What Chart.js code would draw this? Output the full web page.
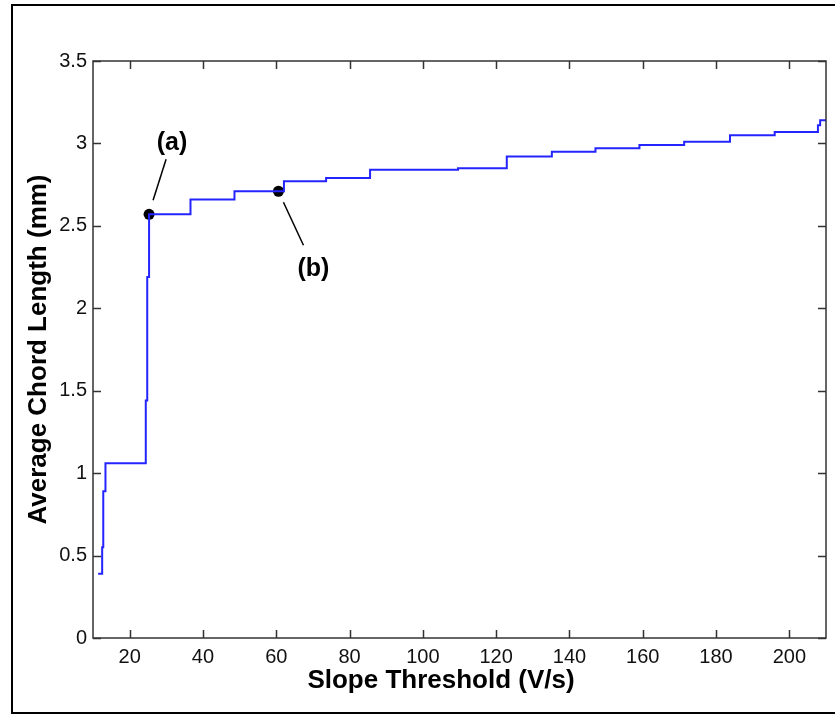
<!DOCTYPE html>
<html>
<head>
<meta charset="utf-8">
<script src="https://cdn.jsdelivr.net/npm/chart.js@4.4.1/dist/chart.umd.min.js"></script>
<style>
  body { margin: 0; background: #fff; }
  #wrap { width: 835px; height: 715px; }
</style>
</head>
<body>
<div id="wrap"><canvas id="chordChart" width="835" height="715"></canvas></div>
<script>
// step data: each point is where a new level starts
const thresholdX = [11.4, 12.5, 12.8, 13.4, 24.4, 24.8, 25.3, 36.6, 48.6, 62.1, 73.6, 85.6, 109.6, 122.9, 135.2, 147.1, 159.1, 171.3, 183.8, 196.0, 207.8, 208.4, 210];
const chordLength = [0.39, 0.55, 0.89, 1.06, 1.44, 2.19, 2.57, 2.66, 2.71, 2.77, 2.79, 2.84, 2.85, 2.92, 2.95, 2.97, 2.99, 3.01, 3.05, 3.07, 3.11, 3.14, 3.14];

// marked points
const markX = [25.3, 60.6];
const markY = [2.57, 2.71];
const markLabels = ["(a)", "(b)"];

// ticks
const xTicks = [20, 40, 60, 80, 100, 120, 140, 160, 180, 200];
const yTicks = [0, 0.5, 1, 1.5, 2, 2.5, 3, 3.5];

const xTitle = "Slope Threshold (V/s)";
const yTitle = "Average Chord Length (mm)";

const FONT = "'Liberation Sans', Arial, sans-serif";

const lineData = thresholdX.map((x, i) => ({x: x, y: chordLength[i]}));
const markData = markX.map((x, i) => ({x: x, y: markY[i]}));

// pointer offsets (px) from each marker: line start, line end, label centre
const pointers = [
    {s: [4, -14], e: [17, -55], t: [23, -71]},
    {s: [5, 11], e: [25, 54], t: [35, 78]}
];

const boxPlugin = {
    id: "boxPlugin",
    afterDatasetsDraw(chart) {
        const ctx = chart.ctx;
        const meta = chart.getDatasetMeta(1);
        ctx.save();
        ctx.strokeStyle = "#000";
        ctx.lineWidth = 1.5;
        ctx.fillStyle = "#000";
        ctx.font = "bold 25px " + FONT;
        ctx.textAlign = "center";
        ctx.textBaseline = "middle";
        meta.data.forEach((pt, i) => {
            const p = pointers[i];
            ctx.beginPath();
            ctx.moveTo(pt.x + p.s[0], pt.y + p.s[1]);
            ctx.lineTo(pt.x + p.e[0], pt.y + p.e[1]);
            ctx.stroke();
            ctx.fillText(markLabels[i], pt.x + p.t[0], pt.y + p.t[1]);
        });
        ctx.restore();
    },
    afterDraw(chart) {
        const ctx = chart.ctx;
        const a = chart.chartArea;
        const xs = chart.scales.x;
        const ys = chart.scales.y;
        const tl = 8;
        ctx.save();
        // outer frame (right edge falls just outside the picture)
        ctx.strokeStyle = "#000";
        ctx.lineWidth = 2;
        ctx.strokeRect(12, 5, 828, 708);
        // axes box
        ctx.strokeStyle = "#333";
        ctx.lineWidth = 1.5;
        ctx.strokeRect(a.left, a.top, a.right - a.left, a.bottom - a.top);
        ctx.beginPath();
        xTicks.forEach(v => {
            const px = Math.round(xs.getPixelForValue(v)) + 0.5;
            ctx.moveTo(px, a.bottom); ctx.lineTo(px, a.bottom - tl);
            ctx.moveTo(px, a.top); ctx.lineTo(px, a.top + tl);
        });
        yTicks.forEach(v => {
            const py = Math.round(ys.getPixelForValue(v)) + 0.5;
            ctx.moveTo(a.left, py); ctx.lineTo(a.left + tl, py);
            ctx.moveTo(a.right, py); ctx.lineTo(a.right - tl, py);
        });
        ctx.stroke();
        // axis titles
        ctx.fillStyle = "#000";
        ctx.font = "bold 26px " + FONT;
        ctx.textAlign = "center";
        ctx.textBaseline = "alphabetic";
        ctx.fillText(xTitle, 441, 688);
        ctx.translate(46, (a.top + a.bottom) / 2);
        ctx.rotate(-Math.PI / 2);
        ctx.fillText(yTitle, 0, 0);
        ctx.restore();
    }
};

new Chart("chordChart", {
    type: "line",
    data: {
        datasets: [{
            data: lineData,
            borderColor: "#2424ff",
            borderWidth: 2,
            pointRadius: 0,
            stepped: true,
            fill: false
        }, {
            type: "scatter",
            data: markData,
            pointRadius: 5.5,
            pointBorderWidth: 0,
            pointBackgroundColor: "#000",
            showLine: false
        }]
    },
    options: {
        responsive: false,
        animation: false,
        layout: {padding: {left: 0, top: 61, right: 9, bottom: 0}},
        plugins: {
            legend: {display: false},
            tooltip: {enabled: false}
        },
        scales: {
            x: {
                type: "linear",
                min: 10,
                max: 210,
                grid: {display: false, drawTicks: false},
                border: {display: false},
                afterBuildTicks: (scale) => { scale.ticks = xTicks.map(v => ({value: v})); },
                afterFit: (scale) => { scale.height = 77; },
                ticks: {
                    padding: 7,
                    color: "#111",
                    font: {family: FONT, size: 20}
                }
            },
            y: {
                type: "linear",
                min: 0,
                max: 3.5,
                grid: {display: false, drawTicks: false},
                border: {display: false},
                afterBuildTicks: (scale) => { scale.ticks = yTicks.map(v => ({value: v})); },
                afterFit: (scale) => { scale.width = 93; },
                ticks: {
                    padding: 6,
                    color: "#111",
                    font: {family: FONT, size: 20},
                    callback: (v) => String(v)
                }
            }
        }
    },
    plugins: [boxPlugin]
});
</script>
</body>
</html>
